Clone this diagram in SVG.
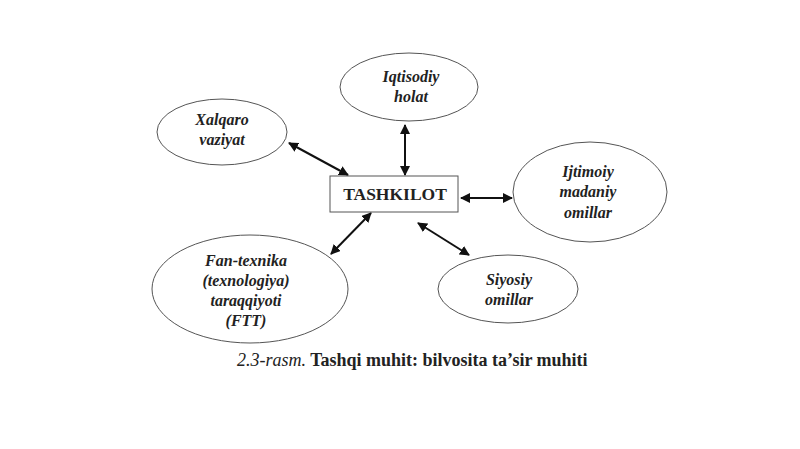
<svg xmlns="http://www.w3.org/2000/svg" width="800" height="449" viewBox="0 0 800 449">
<defs>
<marker id="ah" viewBox="0 0 10 10" refX="9" refY="5" markerWidth="5" markerHeight="5" orient="auto-start-reverse" markerUnits="strokeWidth">
<path d="M0,0 L10,5 L0,10 z" fill="#111"/>
</marker>
<style>
.el{fill:#fff;stroke:#555;stroke-width:1}
.lb{font-family:'Liberation Serif','Times New Roman',serif;font-style:italic;font-weight:bold;font-size:16px;fill:#222;text-anchor:middle}
.cn{stroke:#111;stroke-width:2;fill:none;marker-start:url(#ah);marker-end:url(#ah)}
</style>
</defs>
<rect width="800" height="449" fill="#fff"/>
<g id="connectors">
<line class="cn" x1="405" y1="125" x2="405" y2="175"/>
<line class="cn" x1="289" y1="143" x2="348" y2="175"/>
<line class="cn" x1="461" y1="198" x2="512" y2="198"/>
<line class="cn" x1="418" y1="223" x2="469" y2="255"/>
<line class="cn" x1="371" y1="213" x2="331" y2="254"/>
</g>
<g id="iqtisodiy">
<ellipse class="el" cx="409" cy="87" rx="69" ry="34"/>
<text class="lb" x="411" y="82">Iqtisodiy</text>
<text class="lb" x="411" y="102">holat</text>
</g>
<g id="xalqaro">
<ellipse class="el" cx="222" cy="132" rx="65" ry="33"/>
<text class="lb" x="222" y="125">Xalqaro</text>
<text class="lb" x="222" y="145">vaziyat</text>
</g>
<g id="tashkilot">
<rect x="330" y="176" width="128" height="36" fill="#fff" stroke="#555" stroke-width="1"/>
<text x="395" y="200" font-family="'Liberation Serif',serif" font-weight="bold" font-size="17.5" text-anchor="middle" fill="#222">TASHKILOT</text>
</g>
<g id="ijtimoiy">
<ellipse class="el" cx="590" cy="192" rx="77" ry="50"/>
<text class="lb" x="588" y="177">Ijtimoiy</text>
<text class="lb" x="588" y="197">madaniy</text>
<text class="lb" x="588" y="218">omillar</text>
</g>
<g id="siyosiy">
<ellipse class="el" cx="508" cy="289" rx="70" ry="34"/>
<text class="lb" x="509" y="285">Siyosiy</text>
<text class="lb" x="509" y="305">omillar</text>
</g>
<g id="fan">
<ellipse class="el" cx="250" cy="289" rx="98" ry="54"/>
<text class="lb" x="246" y="266">Fan-texnika</text>
<text class="lb" x="246" y="286">(texnologiya)</text>
<text class="lb" x="246" y="306">taraqqiyoti</text>
<text class="lb" x="246" y="326">(FTT)</text>
</g>
<text x="237" y="366" font-family="'Liberation Serif',serif" font-size="18" fill="#222"><tspan font-style="italic">2.3-rasm.</tspan><tspan font-weight="bold"> Tashqi muhit: bilvosita ta’sir muhiti</tspan></text>
</svg>
